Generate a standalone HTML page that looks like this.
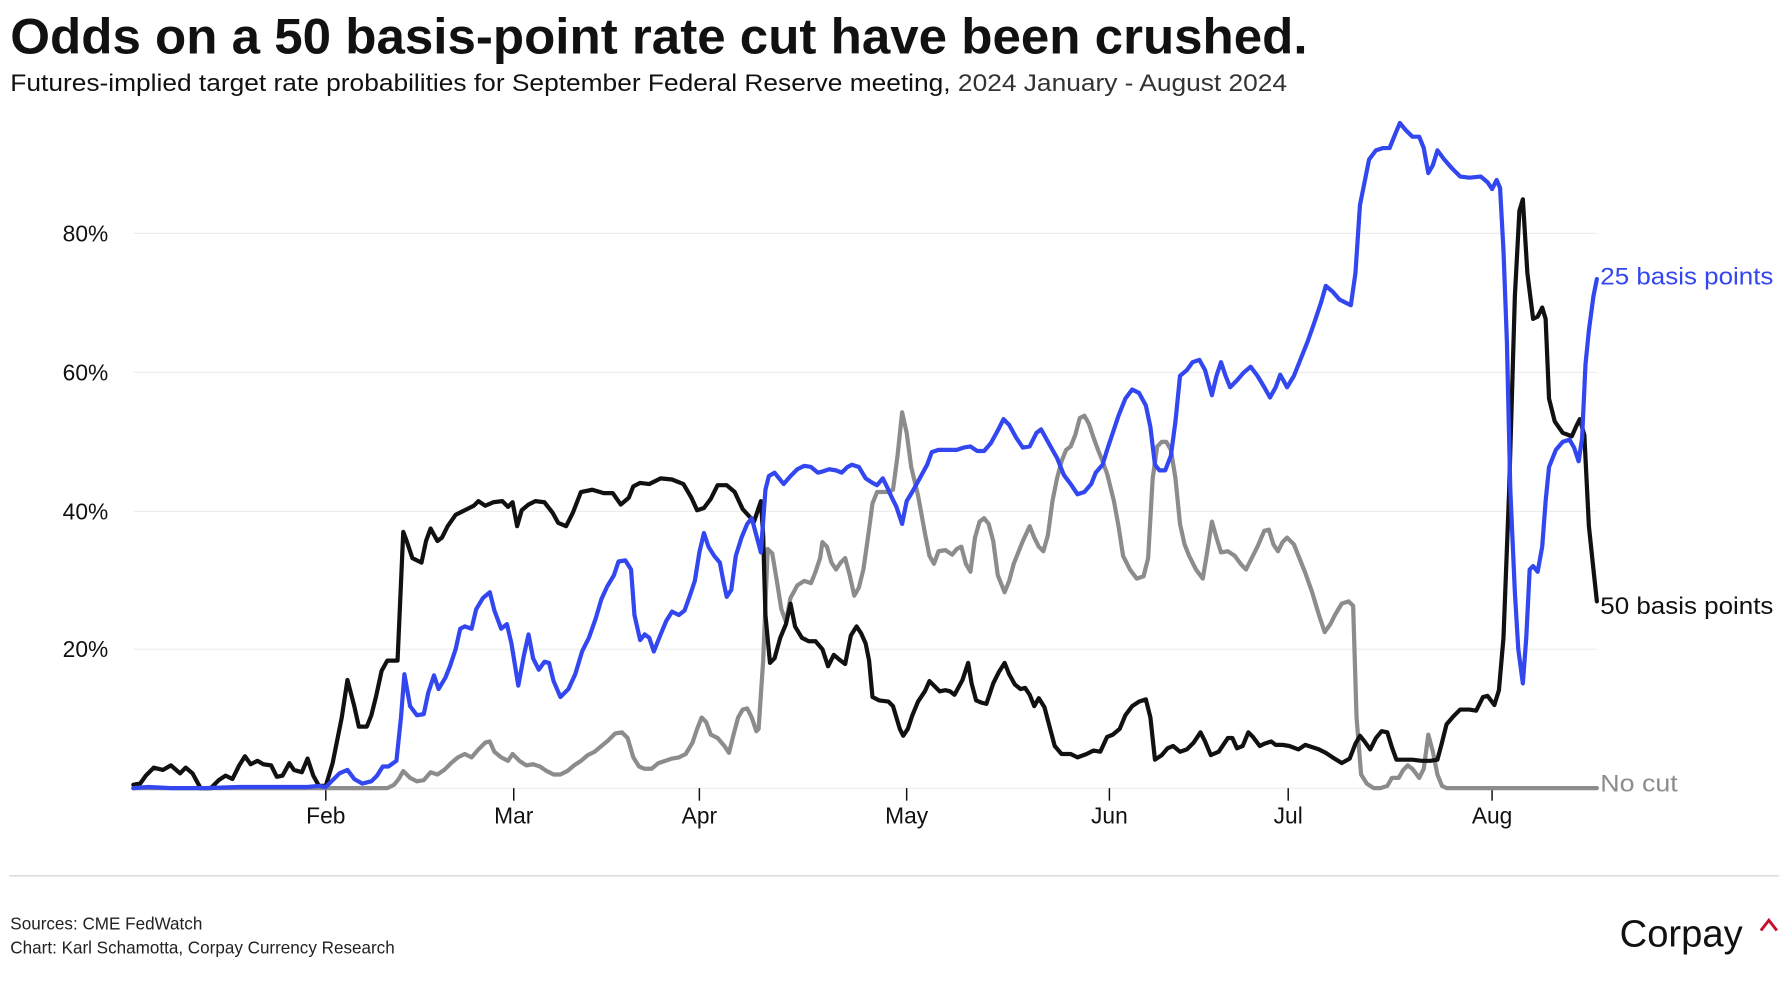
<!DOCTYPE html>
<html><head><meta charset="utf-8"><style>
html,body{margin:0;padding:0;background:#fff;}
svg{display:block;font-family:"Liberation Sans",sans-serif;}
</style></head><body>
<svg width="1786" height="1000" viewBox="0 0 1568 878" xmlns="http://www.w3.org/2000/svg">
<rect width="1568" height="878" fill="#fff"/>
<text x="9" y="47" font-size="44" font-weight="bold" fill="#111" textLength="1139" lengthAdjust="spacingAndGlyphs">Odds on a 50 basis-point rate cut have been crushed.</text>
<text x="9" y="80" font-size="21" fill="#111" textLength="1121" lengthAdjust="spacingAndGlyphs"><tspan font-weight="500">Futures-implied target rate probabilities for September Federal Reserve meeting,</tspan> <tspan fill="#333">2024 January - August 2024</tspan></text>
<g stroke="#ececec" stroke-width="1">
<line x1="117" y1="205" x2="1402" y2="205"/><line x1="117" y1="327" x2="1402" y2="327"/>
<line x1="117" y1="449" x2="1402" y2="449"/><line x1="117" y1="570" x2="1402" y2="570"/>
<line x1="117" y1="692" x2="1402" y2="692"/>
</g>
<g font-size="20" fill="#111" text-anchor="end">
<text x="95" y="212">80%</text><text x="95" y="334">60%</text><text x="95" y="456">40%</text><text x="95" y="577">20%</text>
</g>
<g stroke="#111" stroke-width="1.3">
<line x1="286" y1="692" x2="286" y2="703"/><line x1="451" y1="692" x2="451" y2="703"/><line x1="614" y1="692" x2="614" y2="703"/><line x1="796" y1="692" x2="796" y2="703"/><line x1="974" y1="692" x2="974" y2="703"/><line x1="1131" y1="692" x2="1131" y2="703"/><line x1="1310" y1="692" x2="1310" y2="703"/>
</g>
<g font-size="20" fill="#111" text-anchor="middle">
<text x="286" y="723">Feb</text><text x="451" y="723">Mar</text><text x="614" y="723">Apr</text><text x="796" y="723">May</text><text x="974" y="723">Jun</text><text x="1131" y="723">Jul</text><text x="1310" y="723">Aug</text>
</g>
<g fill="none" stroke-width="3.7" stroke-linejoin="round" stroke-linecap="round">
<polyline stroke="#8c8c8c" points="117,692 200,692 260,692 290,692 320,692 340,692 346,689 350,684 354,677 360,683 366,686 372,685 378,678 384,680 390,676 396,670 402,665 408,662 414,665 420,658 426,652 430,651 434,660 440,665 446,668 450,662 456,668 462,672 468,671 474,673 480,677 486,680 492,680 498,677 504,672 510,668 516,663 522,660 528,655 534,650 540,644 546,643 551,648 556,665 561,673 566,675 572,675 578,670 584,668 590,666 596,665 602,662 608,652 612,640 616,630 620,634 624,645 630,648 636,655 640,661 644,645 648,630 652,623 656,622 660,630 664,642 666,640 670,580 674,482 678,486 682,510 686,535 690,546 694,525 700,514 706,510 712,512 716,502 720,490 722,476 726,480 730,494 734,500 738,494 742,490 746,505 750,523 754,516 758,500 762,472 766,442 770,432 776,432 780,432 784,430 788,400 792,362 796,380 800,410 806,435 812,468 816,488 820,495 824,484 830,483 836,487 840,482 844,480 848,495 852,502 856,472 860,458 864,455 868,460 872,475 876,505 882,520 886,510 890,495 894,485 898,475 904,462 908,472 912,480 916,484 920,470 924,440 928,420 932,405 936,395 940,392 944,382 948,367 952,365 956,372 960,384 964,395 968,405 972,416 978,440 982,462 986,488 992,500 998,508 1004,506 1008,490 1012,420 1016,392 1020,388 1024,388 1028,395 1032,420 1036,460 1040,478 1044,488 1050,500 1056,508 1060,484 1064,458 1068,472 1072,485 1078,484 1084,488 1090,496 1094,500 1098,492 1104,480 1110,466 1114,465 1118,478 1122,484 1126,476 1130,472 1136,478 1140,488 1146,503 1152,520 1158,540 1163,555 1168,548 1172,540 1178,530 1184,528 1188,532 1191,630 1195,680 1200,688 1206,692 1212,692 1218,690 1222,683 1228,683 1232,676 1236,672 1240,675 1246,683 1250,675 1254,645 1258,660 1262,680 1266,690 1270,692 1402,692"/>
<polyline stroke="#111" points="117,689 123,688 128,681 135,674 143,676 150,672 158,679 163,674 169,679 176,692 185,692 192,685 198,681 204,684 210,672 215,664 220,671 226,668 231,671 238,672 243,682 248,681 254,670 258,676 265,678 270,666 275,681 280,690 286,690 292,670 300,630 305,597 311,620 315,638 322,638 326,628 330,612 335,589 340,580 345,580 349,580 354,467 357,475 362,490 370,494 374,475 378,464 384,475 388,472 393,462 400,452 410,447 416,444 420,440 426,444 433,441 441,440 446,445 450,441 454,462 458,448 464,443 470,440 478,441 485,450 490,459 497,462 503,450 510,432 520,430 530,433 538,433 545,443 552,437 556,427 562,424 570,425 580,420 590,421 600,425 607,437 612,448 618,446 624,438 630,426 638,426 645,432 652,447 662,458 668,440 670,470 672,540 676,582 680,578 685,560 690,548 694,530 698,550 704,560 710,563 716,563 722,570 727,585 732,575 738,580 742,583 747,558 752,550 756,556 760,565 763,580 766,612 772,615 780,616 784,620 790,640 793,646 797,640 801,628 806,616 812,607 816,598 820,602 825,607 830,606 834,607 838,610 845,597 850,582 853,600 857,615 862,617 866,618 872,600 877,590 882,582 886,592 891,601 896,605 900,604 904,610 908,620 912,613 917,621 922,640 926,655 932,662 940,662 946,665 954,662 960,659 966,660 972,647 977,645 983,640 988,628 994,620 1000,616 1006,614 1010,630 1014,667 1020,663 1025,657 1030,655 1036,660 1042,658 1048,652 1054,643 1058,651 1063,663 1070,660 1078,648 1082,648 1086,657 1091,655 1096,643 1100,647 1106,655 1110,653 1116,651 1120,654 1126,654 1132,655 1140,658 1146,654 1152,656 1158,658 1164,661 1170,665 1178,670 1185,666 1190,653 1194,646 1198,651 1203,658 1208,648 1213,642 1218,643 1222,656 1226,667 1232,667 1240,667 1248,668 1256,668 1262,667 1266,652 1270,636 1276,629 1282,623 1290,623 1296,624 1302,612 1306,611 1312,619 1316,606 1320,560 1325,430 1330,260 1334,185 1337,175 1341,240 1346,280 1350,278 1354,270 1357,280 1360,350 1365,370 1372,380 1380,383 1384,374 1387,368 1391,382 1395,462 1399,500 1402,528"/>
<polyline stroke="#3347f0" points="117,692 130,691 150,692 180,692 210,691 240,691 270,691 280,690 286,691 291,686 298,679 305,676 311,684 318,688 326,686 331,681 336,673 341,673 348,668 352,630 355,592 360,620 366,628 372,627 376,608 381,593 385,605 391,595 395,585 400,570 404,552 408,550 414,552 418,535 424,525 430,520 434,536 440,552 445,548 449,565 455,602 460,575 464,557 468,578 473,588 478,581 482,582 486,598 492,612 499,605 505,592 511,572 517,560 523,543 528,526 533,515 539,505 543,493 549,492 554,500 557,540 562,562 566,557 570,560 574,572 580,557 585,545 590,537 596,540 601,536 606,522 610,510 614,485 618,468 622,480 627,488 632,494 635,510 638,524 642,518 646,488 651,472 656,460 660,455 664,470 668,485 672,430 675,418 680,415 688,425 694,418 700,412 706,409 712,410 718,415 722,414 728,412 734,413 739,415 744,410 748,408 754,410 760,420 766,424 770,426 775,420 779,428 783,437 787,445 792,460 796,440 802,430 808,419 814,408 818,397 824,395 832,395 840,395 846,393 852,392 858,396 864,396 870,389 876,378 881,368 886,373 892,384 898,393 904,392 910,380 914,377 919,386 924,395 928,402 934,417 940,425 946,434 952,432 958,425 962,415 968,408 972,395 977,380 982,365 988,350 994,342 1000,345 1006,356 1010,375 1014,408 1018,413 1023,413 1028,400 1032,370 1036,330 1042,325 1047,318 1053,316 1058,325 1064,347 1068,330 1072,318 1076,330 1080,340 1086,334 1092,327 1098,322 1104,330 1110,340 1115,349 1120,340 1124,329 1130,340 1136,330 1142,315 1148,300 1154,283 1160,265 1164,251 1170,256 1176,263 1180,265 1186,268 1190,240 1194,180 1198,160 1202,140 1208,132 1214,130 1220,130 1224,120 1229,108 1234,114 1240,120 1246,120 1250,130 1254,152 1258,145 1262,132 1268,140 1275,148 1282,155 1290,156 1300,155 1306,160 1310,166 1314,158 1317,165 1320,220 1323,300 1326,430 1330,520 1333,570 1337,600 1340,560 1343,500 1346,497 1350,502 1354,480 1357,440 1360,410 1366,395 1372,388 1378,386 1382,393 1386,405 1389,385 1392,320 1395,290 1399,260 1402,245"/>
</g>
<g font-size="21.5">
<text x="1405" y="250" fill="#3347f0" textLength="152" lengthAdjust="spacingAndGlyphs">25 basis points</text>
<text x="1405" y="539" fill="#111" textLength="152" lengthAdjust="spacingAndGlyphs">50 basis points</text>
<text x="1405" y="695" fill="#8c8c8c" textLength="68" lengthAdjust="spacingAndGlyphs">No cut</text>
</g>
<line x1="8" y1="769" x2="1562" y2="769" stroke="#d8d8d8" stroke-width="1.2"/>
<text x="9" y="816" font-size="15" fill="#222">Sources: CME FedWatch</text>
<text x="9" y="837" font-size="15" fill="#222">Chart: Karl Schamotta, Corpay Currency Research</text>
<text x="1422" y="831" font-size="33" fill="#111" textLength="108" lengthAdjust="spacingAndGlyphs">Corpay</text>
<polyline points="1546,817 1553,808 1560,817" fill="none" stroke="#c8102e" stroke-width="2.6"/>
</svg>
</body></html>
